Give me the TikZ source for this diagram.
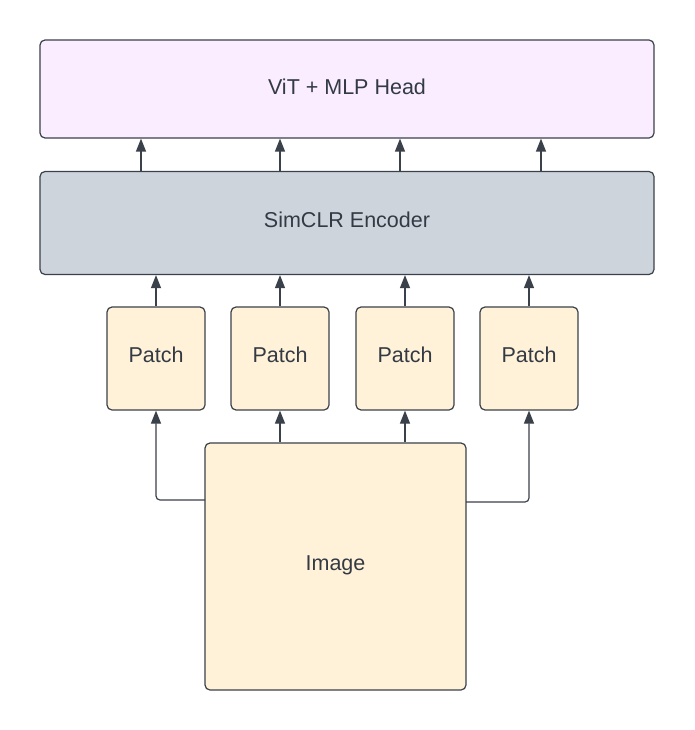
\documentclass[tikz,border=0pt]{standalone}
\usepackage{fontspec}
\setmainfont{Liberation Sans}
\usetikzlibrary{arrows.meta}
\definecolor{edge}{HTML}{3A414A}
\definecolor{ink}{HTML}{333A44}
\definecolor{headfill}{HTML}{F9EDFF}
\definecolor{encfill}{HTML}{CED4DC}
\definecolor{patchfill}{HTML}{FFF2D9}
\tikzset{
  box/.style={draw=edge, line width=1.2pt, rounded corners=5pt, text=ink,
    font=\fontsize{21.5}{25}\selectfont, inner sep=0pt,
    text height=15pt, text depth=7pt},
  link/.style={draw=edge, line width=1.2pt,
    -{Triangle[width=10pt,length=13pt]}},
}
\begin{document}
\begin{tikzpicture}[x=1pt,y=-1pt]
  \useasboundingbox (0,0) rectangle (694,730);
  % top and encoder layers
  \node[box, fill=headfill, minimum width=614pt, minimum height=98pt, text depth=3pt] (head) at (347,89) {ViT + MLP Head};
  \node[box, fill=encfill, minimum width=614pt, minimum height=103pt] (enc) at (347,223) {SimCLR Encoder};
  % patches
  \foreach \i/\x in {1/156,2/280,3/405,4/529}{
    \node[box, fill=patchfill, minimum width=98pt, minimum height=103pt] (p\i) at (\x,358.5) {Patch};
  }
  % input image
  \node[box, fill=patchfill, minimum width=261pt, minimum height=247pt] (img) at (335.5,566.5) {Image};
  % encoder to head
  \foreach \x in {141,280,400,541}{
    \draw[link] (enc.north -| \x,0) -- (head.south -| \x,0);
  }
  % patches to encoder
  \foreach \i in {1,...,4}{
    \draw[link] (p\i.north) -- (enc.south -| p\i.north);
  }
  % image to patches
  \coordinate (lft) at (205,500);
  \coordinate (rgt) at (466,502);
  \draw[link, rounded corners=4pt] (lft) -| (p1.south);
  \draw[link] (img.north -| p2.south) -- (p2.south);
  \draw[link] (img.north -| p3.south) -- (p3.south);
  \draw[link, rounded corners=4pt] (rgt) -| (p4.south);
\end{tikzpicture}
\end{document}
